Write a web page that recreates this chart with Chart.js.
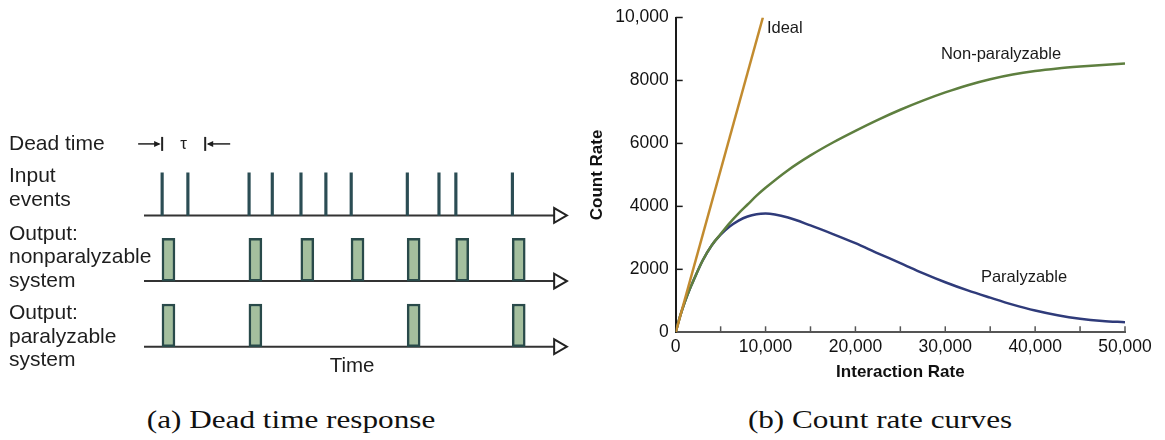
<!DOCTYPE html>
<html>
<head>
<meta charset="utf-8">
<script src="https://cdn.jsdelivr.net/npm/chart.js@4.4.1/dist/chart.umd.min.js"></script>
<style>
  html, body { margin: 0; padding: 0; background: #fff; }
  body { width: 1165px; height: 440px; position: relative; overflow: hidden; }
  #timing { position: absolute; left: 0; top: 0; }
  #rates { position: absolute; left: 580px; top: 0; }
  .caption {
    position: absolute; top: 405px; line-height: 30px;
    font-family: "Liberation Serif", "Times New Roman", serif; font-size: 26px; color: #111;
    white-space: nowrap; transform: translateX(-50%) scaleX(1.2);
  }
</style>
</head>
<body>
<canvas id="timing" width="580" height="390"></canvas>
<canvas id="rates" width="585" height="390"></canvas>
<div class="caption" style="left:291px">(a) Dead time response</div>
<div class="caption" style="left:880px">(b) Count rate curves</div>
<script>
// ---- timing diagram (time in arbitrary units, axis runs 0..100) ----
const inputEvents = [4.3, 10.4, 24.9, 30.4, 37.2, 43.1, 49.1, 62.4, 69.9, 73.9, 87.3];
const nonparalyzableOut = [4.3, 24.9, 37.2, 49.1, 62.4, 73.9, 87.3];
const paralyzableOut = [4.3, 24.9, 62.4, 87.3];
const deadTime = [4.3, 14.5];

// ---- count rate curves ----
const interactionRate = [0, 500, 1000, 1500, 2000, 3000, 4000, 5000, 6000, 7000, 8000, 9000, 10000,
  12500, 15000, 17500, 20000, 22500, 25000, 27500, 30000, 32500, 35000, 37500, 40000, 42500, 45000, 47500, 50000];
const nonParalyzable = [0, 520, 950, 1330, 1660, 2280, 2760, 3120, 3470, 3780, 4060, 4340, 4590,
  5150, 5620, 6030, 6400, 6750, 7070, 7360, 7620, 7850, 8040, 8190, 8300, 8380, 8440, 8490, 8540];
const paralyzable = [0, 520, 950, 1330, 1660, 2280, 2760, 3100, 3360, 3550, 3680, 3750, 3770,
  3645, 3395, 3120, 2830, 2510, 2200, 1880, 1590, 1330, 1100, 880, 690, 540, 430, 360, 320];
const idealRate = [0, 9700];
const idealCount = [0, 10000];

const rateTicks = [0, 10000, 20000, 30000, 40000, 50000];
const rateMinorTicks = [5000, 10000, 15000, 20000, 25000, 30000, 35000, 40000, 45000, 50000];
const countTicks = [0, 2000, 4000, 6000, 8000, 10000];

const SANS = '"Liberation Sans", Arial, Helvetica, sans-serif';

// rows of the timing diagram: input on top, then the two outputs
const ROW = { input: 2, nonpar: 1, par: 0 };
const MARK_H = 0.65;
const PULSE_W = 3;
const TAU_LEVEL = 3.09;
const AXIS_END = 97.3;
const ARROW_AT = 98.2;

const rowLabels = [
  { row: ROW.input, top: -39, lines: ['Input', 'events'] },
  { row: ROW.nonpar, top: -47, lines: ['Output:', 'nonparalyzable', 'system'] },
  { row: ROW.par, top: -33, lines: ['Output:', 'paralyzable', 'system'] }
];

const pulseData = (starts, row) => starts.map(t => ({ x: t + PULSE_W / 2, y: [row, row + MARK_H] }));
const pulseStyle = {
  type: 'bar', grouped: false, barThickness: 13,
  backgroundColor: '#a4bf9e', borderColor: '#294a4a', borderWidth: 2.5, borderSkipped: false
};

const timingText = {
  id: 'timingText',
  afterDraw(chart) {
    const { ctx, scales: { x, y } } = chart;
    ctx.save();
    ctx.fillStyle = '#1e1e1e';
    ctx.strokeStyle = '#222';
    ctx.font = '21px ' + SANS;
    ctx.textBaseline = 'middle';
    ctx.textAlign = 'left';

    const tauY = y.getPixelForValue(TAU_LEVEL);
    ctx.fillText('Dead time', 9, tauY);
    rowLabels.forEach(g => {
      const base = y.getPixelForValue(g.row) + g.top;
      g.lines.forEach((s, i) => ctx.fillText(s, 9, base + i * 23.5));
    });

    // dead time marker  →|  τ  |←
    const xa = x.getPixelForValue(deadTime[0]);
    const xb = x.getPixelForValue(deadTime[1]);
    ctx.lineWidth = 2;
    [xa, xb].forEach(px => {
      ctx.beginPath(); ctx.moveTo(px, tauY - 7); ctx.lineTo(px, tauY + 7); ctx.stroke();
    });
    ctx.lineWidth = 1.5;
    ctx.beginPath(); ctx.moveTo(xa - 24, tauY); ctx.lineTo(xa - 3, tauY); ctx.stroke();
    ctx.beginPath(); ctx.moveTo(xb + 3, tauY); ctx.lineTo(xb + 25, tauY); ctx.stroke();
    ctx.beginPath(); ctx.moveTo(xa - 1.5, tauY); ctx.lineTo(xa - 8, tauY - 3); ctx.lineTo(xa - 8, tauY + 3); ctx.fill();
    ctx.beginPath(); ctx.moveTo(xb + 1.5, tauY); ctx.lineTo(xb + 8, tauY - 3); ctx.lineTo(xb + 8, tauY + 3); ctx.fill();
    ctx.textAlign = 'center';
    ctx.font = '17px ' + SANS;
    ctx.fillText('τ', (xa + xb) / 2, tauY);

    ctx.font = '20.5px ' + SANS;
    ctx.fillText('Time', x.getPixelForValue(49.3), y.getPixelForValue(ROW.par) + 20);
    ctx.restore();
  }
};

new Chart(document.getElementById('timing'), {
  type: 'bar',
  data: {
    datasets: [
      {
        type: 'bar', grouped: false, barThickness: 2.5, backgroundColor: '#2b4d54',
        data: inputEvents.map(t => ({ x: t, y: [ROW.input, ROW.input + MARK_H] }))
      },
      Object.assign({ data: pulseData(nonparalyzableOut, ROW.nonpar) }, pulseStyle),
      Object.assign({ data: pulseData(paralyzableOut, ROW.par) }, pulseStyle),
      {
        type: 'scatter', clip: false, pointStyle: 'triangle', rotation: 90, pointRadius: 8.5,
        backgroundColor: '#fff', borderColor: '#222', borderWidth: 2,
        data: [ROW.input, ROW.nonpar, ROW.par].map(r => ({ x: ARROW_AT, y: r }))
      },
      ...[ROW.input, ROW.nonpar, ROW.par].map(r => ({
        type: 'line', clip: false, borderColor: '#333', borderWidth: 2, pointRadius: 0,
        data: [{ x: 0, y: r }, { x: AXIS_END, y: r }]
      }))
    ]
  },
  options: {
    responsive: false, animation: false, devicePixelRatio: 1,
    layout: { padding: { left: 144, right: 14, top: 117, bottom: 9 } },
    plugins: { legend: { display: false }, tooltip: { enabled: false } },
    scales: {
      x: { type: 'linear', min: 0, max: 100, offset: false, display: false },
      y: { type: 'linear', min: -0.5, max: 3.5, display: false }
    }
  },
  plugins: [timingText]
});

// ---- count rate chart ----
const innerTicks = {
  id: 'innerTicks',
  afterDraw(chart) {
    const { ctx, chartArea: a, scales: { x, y } } = chart;
    ctx.save();
    ctx.lineWidth = 1.5;
    ctx.strokeStyle = '#555';
    rateMinorTicks.forEach(v => {
      const px = x.getPixelForValue(v);
      ctx.beginPath(); ctx.moveTo(px, a.bottom); ctx.lineTo(px, a.bottom - 6); ctx.stroke();
    });
    ctx.strokeStyle = '#1a1a1a';
    countTicks.slice(1).forEach(v => {
      const py = y.getPixelForValue(v);
      ctx.beginPath(); ctx.moveTo(a.left, py); ctx.lineTo(a.left + 7, py); ctx.stroke();
    });
    ctx.restore();
  }
};

const curveLabels = {
  id: 'curveLabels',
  afterDraw(chart) {
    const { ctx, scales: { x, y } } = chart;
    ctx.save();
    ctx.fillStyle = '#1a1a1a';
    ctx.font = '16.5px ' + SANS;
    ctx.textBaseline = 'middle';
    ctx.textAlign = 'left';
    ctx.fillText('Ideal', x.getPixelForValue(10150), y.getPixelForValue(9640));
    ctx.textAlign = 'center';
    ctx.fillText('Non-paralyzable', x.getPixelForValue(36200), y.getPixelForValue(8830));
    ctx.fillText('Paralyzable', x.getPixelForValue(38760), y.getPixelForValue(1750));
    ctx.restore();
  }
};

const toPoints = (xs, ys) => xs.map((v, i) => ({ x: v, y: ys[i] }));
const tickFont = { family: SANS, size: 17.5 };

new Chart(document.getElementById('rates'), {
  type: 'line',
  data: {
    datasets: [
      { label: 'Ideal', data: toPoints(idealRate, idealCount), borderColor: '#c28b2f', borderWidth: 2.5, pointRadius: 0 },
      { label: 'Non-paralyzable', data: toPoints(interactionRate, nonParalyzable), borderColor: '#5e7f3f',
        borderWidth: 2.5, pointRadius: 0, cubicInterpolationMode: 'monotone' },
      { label: 'Paralyzable', data: toPoints(interactionRate, paralyzable), borderColor: '#2f3b7a',
        borderWidth: 2.5, pointRadius: 0, cubicInterpolationMode: 'monotone' }
    ]
  },
  options: {
    responsive: false, animation: false, devicePixelRatio: 1,
    layout: { padding: { left: 0, right: 40, top: 10, bottom: 0 } },
    plugins: { legend: { display: false }, tooltip: { enabled: false } },
    scales: {
      x: {
        type: 'linear', min: 0, max: 50000,
        afterBuildTicks: s => { s.ticks = rateTicks.map(v => ({ value: v })); },
        afterFit: s => { s.height = 57.7; },
        ticks: { font: tickFont, color: '#111', padding: 4, maxRotation: 0,
          callback: v => v.toLocaleString('en-US') },
        grid: { drawOnChartArea: false, drawTicks: false },
        border: { color: '#555', width: 2 },
        title: { display: true, text: 'Interaction Rate', color: '#111',
          font: { family: SANS, size: 17, weight: 'bold' }, padding: { top: 0, bottom: 7.8 } }
      },
      y: {
        type: 'linear', min: 0, max: 10000,
        afterBuildTicks: s => { s.ticks = countTicks.map(v => ({ value: v })); },
        afterFit: s => { s.width = 95.7; },
        ticks: { font: tickFont, color: '#111', padding: 7,
          callback: v => (v >= 10000 ? v.toLocaleString('en-US') : String(v)) },
        grid: { drawOnChartArea: false, drawTicks: false },
        border: { color: '#1a1a1a', width: 2 },
        title: { display: true, text: 'Count Rate', color: '#111',
          font: { family: SANS, size: 17, weight: 'bold' }, padding: { top: 6.8, bottom: 0 } }
      }
    }
  },
  plugins: [innerTicks, curveLabels]
});
</script>
</body>
</html>
